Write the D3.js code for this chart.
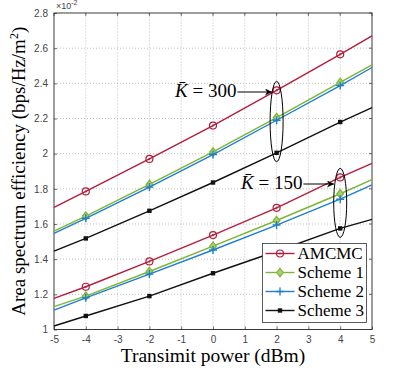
<!DOCTYPE html>
<html>
<head>
<meta charset="utf-8">
<script src="https://cdn.jsdelivr.net/npm/d3@7"></script>
<style>
  body { margin: 0; background: #fff; }
  svg { display: block; }
</style>
</head>
<body>
<div id="chart"></div>
<script>
// values (units of 1e-2)
const powers = [-5, -4, -2, 0, 2, 4, 5]
const markerPowers = [-4, -2, 0, 2, 4]

const amcmc300 = [1.695, 1.785, 1.97, 2.16, 2.36, 2.565, 2.67]
const scheme1_300 = [1.56, 1.645, 1.825, 2.01, 2.205, 2.405, 2.505]
const scheme2_300 = [1.547, 1.632, 1.81, 1.995, 2.19, 2.387, 2.49]
const scheme3_300 = [1.446, 1.518, 1.675, 1.836, 2.005, 2.18, 2.262]

const amcmc150 = [1.177, 1.243, 1.387, 1.537, 1.692, 1.865, 1.945]
const scheme1_150 = [1.13, 1.19, 1.33, 1.474, 1.62, 1.772, 1.852]
const scheme2_150 = [1.11, 1.18, 1.315, 1.452, 1.594, 1.741, 1.822]
const scheme3_150 = [1.02, 1.077, 1.19, 1.32, 1.445, 1.575, 1.626]

const xTicks = d3.range(-5, 6)
const yTicks = [1, 1.2, 1.4, 1.6, 1.8, 2, 2.2, 2.4, 2.6, 2.8]

const schemes = [
  {name: "AMCMC", color: "#b31e3c", marker: "circle", data: [amcmc300, amcmc150]},
  {name: "Scheme 1", color: "#7db434", marker: "diamond", data: [scheme1_300, scheme1_150]},
  {name: "Scheme 2", color: "#1f7fcf", marker: "plus", data: [scheme2_300, scheme2_150]},
  {name: "Scheme 3", color: "#111111", marker: "square", data: [scheme3_300, scheme3_150]}
]

const width = 410, height = 380
const margin = {left: 54, right: 38, top: 13, bottom: 50}

const svg = d3.select("#chart").append("svg").attr("width", width).attr("height", height)

const x = d3.scaleLinear().domain([-5, 5]).range([margin.left, width - margin.right])
const y = d3.scaleLinear().domain([1, 2.8]).range([height - margin.bottom - 0.5, margin.top])

// grid
const grid = svg.append("g").attr("stroke", "#b0b0b0").attr("stroke-width", 0.8).attr("stroke-dasharray", "1,2")
grid.selectAll(".gx").data(xTicks.slice(1, -1)).join("line")
  .attr("x1", d => x(d)).attr("x2", d => x(d)).attr("y1", y(1)).attr("y2", y(2.8))
grid.selectAll(".gy").data(yTicks.slice(1, -1)).join("line")
  .attr("y1", d => y(d)).attr("y2", d => y(d)).attr("x1", x(-5)).attr("x2", x(5))

// axes
const tickFont = "Liberation Sans, Arial, sans-serif"
const xAxis = svg.append("g").attr("transform", `translate(0,${y(1)})`)
  .call(d3.axisBottom(x).tickValues(xTicks).tickSizeInner(-3).tickSizeOuter(0).tickPadding(6).tickFormat(d => String(d)))
const yAxis = svg.append("g").attr("transform", `translate(${x(-5)},0)`)
  .call(d3.axisLeft(y).tickValues(yTicks).tickSizeInner(-3).tickSizeOuter(0).tickPadding(6).tickFormat(d => String(d)))
for (const ax of [xAxis, yAxis]) {
  ax.select(".domain").remove()
  ax.selectAll("text").attr("font-family", tickFont).attr("font-size", 10).attr("fill", "#444")
  ax.selectAll("line").attr("stroke", "#333").attr("stroke-width", 0.7)
}

// top/right ticks
svg.append("g").selectAll("line").data(xTicks).join("line")
  .attr("x1", d => x(d)).attr("x2", d => x(d)).attr("y1", y(2.8)).attr("y2", y(2.8) + 3)
  .attr("stroke", "#333").attr("stroke-width", 0.7)
svg.append("g").selectAll("line").data(yTicks).join("line")
  .attr("y1", d => y(d)).attr("y2", d => y(d)).attr("x1", x(5)).attr("x2", x(5) - 3)
  .attr("stroke", "#333").attr("stroke-width", 0.7)

svg.append("rect")
  .attr("x", x(-5)).attr("y", y(2.8)).attr("width", x(5) - x(-5)).attr("height", y(1) - y(2.8))
  .attr("fill", "none").attr("stroke", "#262626").attr("stroke-width", 0.9)

// exponent
const expo = svg.append("text").attr("x", x(-5) + 2).attr("y", y(2.8) - 4)
  .attr("font-family", tickFont).attr("font-size", 9).attr("fill", "#444")
expo.append("tspan").text("×10")
expo.append("tspan").attr("dy", -4).attr("font-size", 7).text("-2")

// markers
function drawMarker(g, type, cx, cy, color) {
  if (type === "circle") {
    g.append("circle").attr("cx", cx).attr("cy", cy).attr("r", 3.5)
      .attr("fill", "none").attr("stroke", color).attr("stroke-width", 1.2)
    g.append("circle").attr("cx", cx).attr("cy", cy).attr("r", 1).attr("fill", color)
  } else if (type === "diamond") {
    g.append("path").attr("d", `M${cx},${cy - 4.2}L${cx + 3.3},${cy}L${cx},${cy + 4.2}L${cx - 3.3},${cy}Z`)
      .attr("fill", "#a9d070").attr("stroke", color).attr("stroke-width", 1.2)
  } else if (type === "plus") {
    g.append("path").attr("d", `M${cx - 4},${cy}H${cx + 4}M${cx},${cy - 4}V${cy + 4}`)
      .attr("stroke", color).attr("stroke-width", 1.4).attr("fill", "none")
  } else {
    g.append("rect").attr("x", cx - 2.2).attr("y", cy - 2.2).attr("width", 4.4).attr("height", 4.4)
      .attr("fill", color)
  }
}

const line = d3.line().x((d, i) => x(powers[i])).y(d => y(d))
const plot = svg.append("g")
for (const s of schemes) {
  for (const series of s.data) {
    plot.append("path").datum(series).attr("d", line)
      .attr("fill", "none").attr("stroke", s.color).attr("stroke-width", 1.4)
    const mg = plot.append("g")
    series.forEach((v, i) => {
      if (markerPowers.includes(powers[i])) drawMarker(mg, s.marker, x(powers[i]), y(v), s.color)
    })
  }
}

// annotations
const serif = "Liberation Serif, Times New Roman, serif"
svg.append("defs").append("marker").attr("id", "arrow").attr("viewBox", "0 0 10 10")
  .attr("refX", 10).attr("refY", 5).attr("markerWidth", 9).attr("markerHeight", 7)
  .attr("markerUnits", "userSpaceOnUse").attr("orient", "auto")
  .append("path").attr("d", "M0,0L10,5L0,10L3,5Z").attr("fill", "#000")

function annotate(label, tx, ty, ax2, cxv, vTop, vBottom) {
  const t = svg.append("text").attr("x", tx).attr("y", ty)
    .attr("font-family", serif).attr("font-size", 19).attr("fill", "#000")
  t.append("tspan").attr("font-style", "italic").text("K\u0304")
  t.append("tspan").text(" = " + label)
  const bb = t.node().getBBox()
  svg.append("line").attr("x1", bb.x + bb.width + 1).attr("x2", ax2)
    .attr("y1", ty - 5).attr("y2", ty - 5)
    .attr("stroke", "#000").attr("stroke-width", 1).attr("marker-end", "url(#arrow)")
  svg.append("ellipse").attr("cx", x(cxv)).attr("cy", (y(vTop) + y(vBottom)) / 2)
    .attr("rx", 6.5).attr("ry", (y(vBottom) - y(vTop)) / 2 + 9)
    .attr("fill", "none").attr("stroke", "#000").attr("stroke-width", 1)
}
annotate("300", 175, 97, 272, 2, amcmc300[4], scheme3_300[4])
annotate("150", 241, 189, 334, 4, amcmc150[5], scheme3_150[5])

// legend
const lg = svg.append("g").attr("transform", "translate(262.5,243.5)")
lg.append("rect").attr("width", 104).attr("height", 79)
  .attr("fill", "#fff").attr("stroke", "#333").attr("stroke-width", 0.8)
schemes.forEach((s, i) => {
  const ry = 10 + i * 19
  lg.append("line").attr("x1", 3).attr("x2", 32).attr("y1", ry).attr("y2", ry)
    .attr("stroke", s.color).attr("stroke-width", 1.4)
  drawMarker(lg, s.marker, 17.5, ry, s.color)
  lg.append("text").attr("x", 35).attr("y", ry + 5)
    .attr("font-family", serif).attr("font-size", 17).attr("fill", "#000").text(s.name)
})

// axis labels
svg.append("text").attr("x", x(0)).attr("y", 362).attr("text-anchor", "middle")
  .attr("font-family", serif).attr("font-size", 19.5).text("Transimit power (dBm)")
const yl = svg.append("text").attr("transform", `translate(25,${(y(1) + y(2.8)) / 2}) rotate(-90)`)
  .attr("text-anchor", "middle").attr("font-family", serif).attr("font-size", 19)
yl.append("tspan").text("Area spectrum efficiency (bps/Hz/m")
yl.append("tspan").attr("dy", -7).attr("font-size", 12).text("2")
yl.append("tspan").attr("dy", 7).text(")")
</script>
</body>
</html>
